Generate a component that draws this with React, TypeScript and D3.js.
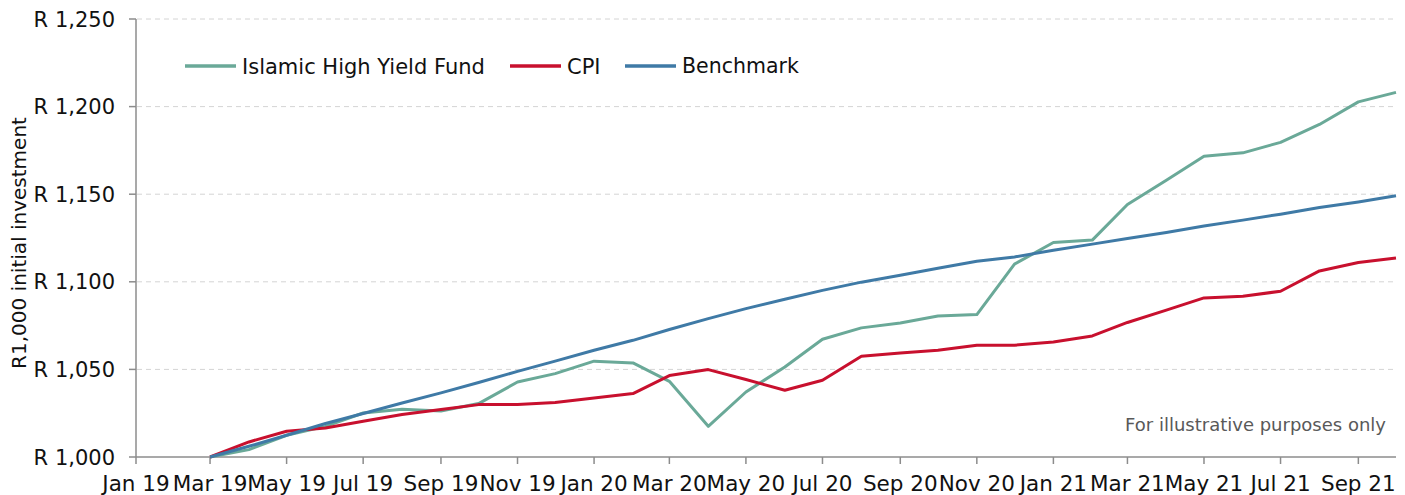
import React from 'react';
import * as d3 from 'd3';

// monthly observations, Mar 2019 .. Oct 2021
const months = [
  '2019-03', '2019-04', '2019-05', '2019-06', '2019-07', '2019-08', '2019-09', '2019-10',
  '2019-11', '2019-12', '2020-01', '2020-02', '2020-03', '2020-04', '2020-05', '2020-06',
  '2020-07', '2020-08', '2020-09', '2020-10', '2020-11', '2020-12', '2021-01', '2021-02',
  '2021-03', '2021-04', '2021-05', '2021-06', '2021-07', '2021-08', '2021-09', '2021-10',
];

const fund = [
  1000, 1004.2, 1012.4, 1017.5, 1025.1, 1027.2, 1026.3, 1030.5,
  1042.8, 1047.6, 1054.7, 1053.7, 1043.2, 1017.5, 1037.1, 1051.4,
  1067.2, 1073.7, 1076.5, 1080.5, 1081.3, 1110.1, 1122.4, 1123.8,
  1144.1, 1158.0, 1171.7, 1173.6, 1179.6, 1189.8, 1202.7, 1208.1,
];

const cpi = [
  1000, 1008.6, 1014.7, 1016.6, 1020.4, 1024.2, 1027.1, 1029.9,
  1029.9, 1031.1, 1033.7, 1036.2, 1046.5, 1049.9, 1044.2, 1038.1,
  1043.8, 1057.5, 1059.4, 1060.9, 1063.8, 1063.8, 1065.7, 1069.1,
  1076.8, 1083.8, 1090.8, 1091.8, 1094.6, 1106.2, 1111.0, 1113.6,
];

const benchmark = [
  1000, 1006.1, 1012.4, 1019.1, 1024.8, 1030.8, 1036.6, 1042.5,
  1048.9, 1054.7, 1060.9, 1066.6, 1072.8, 1079.0, 1084.7, 1090.0,
  1095.1, 1099.8, 1103.7, 1107.7, 1111.7, 1114.2, 1118.0, 1121.5,
  1124.7, 1128.2, 1131.8, 1135.2, 1138.6, 1142.4, 1145.6, 1149.1,
];

const yTicks = [1000, 1050, 1100, 1150, 1200, 1250];

const series = [
  { name: 'Islamic High Yield Fund', values: fund, color: '#6aa998' },
  { name: 'CPI', values: cpi, color: '#c8102e' },
  { name: 'Benchmark', values: benchmark, color: '#3f7aa6' },
];

const W = 1405;
const H = 495;
const FONT = '"DejaVu Sans", Verdana, sans-serif';

export default function App() {
  const parse = d3.timeParse('%Y-%m');
  const dates = months.map((m) => parse(m) as Date);

  const x = d3.scaleTime()
    .domain([new Date(2019, 0, 1), new Date(2021, 9, 1)])
    .range([136, 1396]);
  const y = d3.scaleLinear().domain([1000, 1250]).range([457, 19]);

  const xTicks = x.ticks(d3.timeMonth.every(2) as any);
  const fmt = d3.timeFormat('%b %y');

  const line = d3.line<number>()
    .x((_, i) => x(dates[i]))
    .y((d) => y(d));

  const legendX = [185, 510, 625];

  return (
    <svg width={W} height={H} style={{ position: 'absolute', left: 0, top: 0, background: '#fff' }}
      fontFamily={FONT}>
      {/* grid */}
      {yTicks.filter((t) => t > 1000).map((t) => (
        <line key={t} x1={137} x2={1396} y1={y(t)} y2={y(t)}
          stroke="#d4d4d4" strokeWidth={1} strokeDasharray="5,4" />
      ))}

      {/* y axis */}
      <line x1={136} x2={136} y1={y(1250)} y2={y(1000)} stroke="#8c8c8c" strokeWidth={1.5} />
      {yTicks.map((t) => (
        <g key={t}>
          <line x1={129} x2={136} y1={y(t)} y2={y(t)} stroke="#8c8c8c" strokeWidth={1.5} />
          <text x={115} y={y(t)} dy="0.36em" textAnchor="end" fontSize={21} fill="#111">
            {'R ' + d3.format(',')(t)}
          </text>
        </g>
      ))}
      <text transform={`translate(26,243) rotate(-90)`} textAnchor="middle" fontSize={20} fill="#111">
        R1,000 initial investment
      </text>

      {/* x axis */}
      <line x1={136} x2={1396} y1={y(1000)} y2={y(1000)} stroke="#8c8c8c" strokeWidth={1.5} />
      {xTicks.map((d) => (
        <g key={+d}>
          <line x1={x(d)} x2={x(d)} y1={457} y2={464} stroke="#8c8c8c" strokeWidth={1.5} />
          <text x={x(d)} y={491} textAnchor="middle" fontSize={21.5} fill="#111">{fmt(d)}</text>
        </g>
      ))}

      {/* series */}
      {series.map((s) => (
        <path key={s.name} d={line(s.values) || ''} fill="none" stroke={s.color}
          strokeWidth={3} strokeLinejoin="round" />
      ))}

      {/* legend */}
      {series.map((s, i) => (
        <g key={s.name} transform={`translate(${legendX[i]},66)`}>
          <line x1={0} x2={51} y1={0} y2={0} stroke={s.color} strokeWidth={3.5} />
          <text x={57} y={0} dy="0.36em" fontSize={s.name === 'Benchmark' ? 20.5 : 21} fill="#111">{s.name}</text>
        </g>
      ))}

      <text x={1386} y={431} textAnchor="end" fontSize={18} fill="#595959">
        For illustrative purposes only
      </text>
    </svg>
  );
}
